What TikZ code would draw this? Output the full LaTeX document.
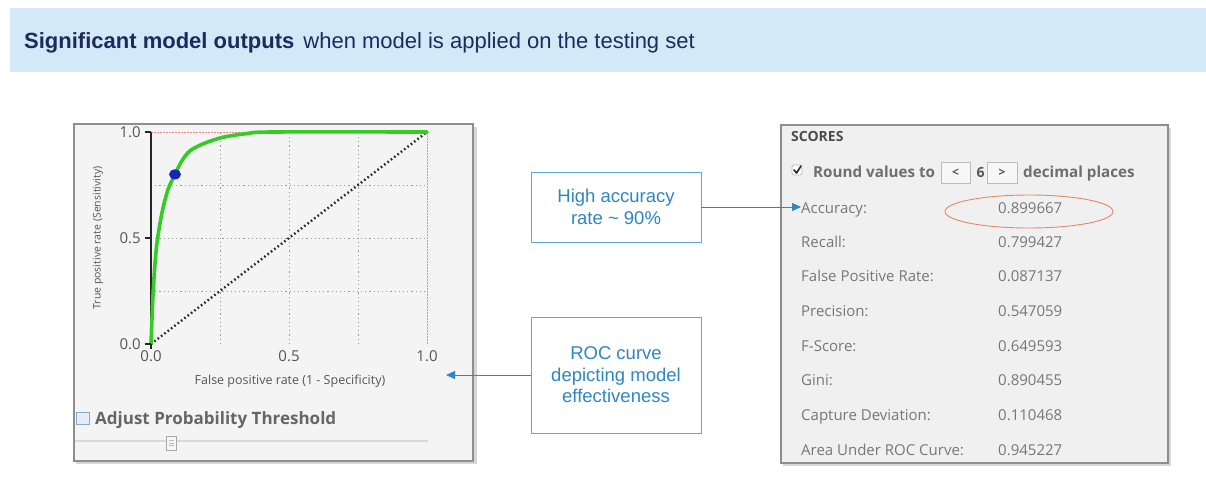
\documentclass[tikz,border=0pt]{standalone}
\usepackage{fontspec}
\setmainfont{Liberation Sans}
\newfontfamily\uifont{Open Sans}
\usetikzlibrary{arrows.meta,shapes.geometric}

\definecolor{bandblue}{HTML}{D4E9F7}
\definecolor{navy}{HTML}{1C2B5C}
\definecolor{callblue}{HTML}{2F86C6}
\definecolor{callborder}{HTML}{5BA6DA}
\definecolor{panelbg}{HTML}{F4F4F4}
\definecolor{scorebg}{HTML}{F0F0F0}
\definecolor{panelframe}{HTML}{8E8E8E}
\definecolor{panelshade}{HTML}{D6D6D6}
\definecolor{rocgreen}{HTML}{33CC22}
\definecolor{dotblue}{HTML}{1428B4}
\definecolor{uigray}{HTML}{777777}
\definecolor{uidark}{HTML}{555555}
\definecolor{ringorange}{HTML}{E4876A}
\definecolor{limitred}{HTML}{EE8A8A}
\definecolor{gridgray}{HTML}{9A9A9A}
\definecolor{btnframe}{HTML}{BBBBBB}
\definecolor{btnfill}{HTML}{F7F7F7}
\definecolor{sliderline}{HTML}{D8D8D8}
\definecolor{boxedge}{HTML}{8AA8C8}
\definecolor{boxfill}{HTML}{E6EDF5}

\begin{document}
\begin{tikzpicture}[x=1pt,y=-1pt,
  callout/.style={draw=callborder, line width=0.9pt, fill=white, align=center,
    text=callblue, font=\fontsize{18.5}{21.5}\selectfont, inner sep=0pt},
  pointer/.style={draw=callblue, line width=0.9pt, -{Triangle[length=9pt,width=8pt]}},
  panelframe/.style={fill=panelbg, draw=panelframe, line width=1.6pt},
  panelshadow/.style={fill=panelshade},
  scoretext/.style={anchor=base west, text=uigray, inner sep=0pt,
    font=\uifont\fontsize{15}{16}\selectfont},
  uibold/.style={anchor=base west, text=uidark, inner sep=0pt,
    font=\uifont\bfseries\fontsize{15.2}{16}\selectfont},
  ticklabel/.style={text=uidark, inner sep=0pt, font=\uifont\fontsize{15}{16}\selectfont},
  axislabel/.style={text=uidark, inner sep=0pt, font=\uifont\fontsize{12.5}{14}\selectfont},
  gridline/.style={draw=gridgray, line width=0.9pt, dash pattern=on 1.2pt off 3pt},
  button/.style={fill=btnfill, draw=btnframe, line width=0.8pt},
]
\fill[white] (0,0) rectangle (1206,479);
\useasboundingbox (0,0) rectangle (1206,479);

% title band
\fill[bandblue] (10,8) rectangle (1206,72);
\node[anchor=base west, inner sep=0pt, text=navy, font=\fontsize{22}{26}\selectfont]
  (title) at (24,48) {\textbf{Significant model outputs}\hspace{3pt} when model is applied on the testing set};

% ---------------- ROC panel ----------------
\fill[panelshadow] (76,127) rectangle (477,464);
\draw[panelframe] (74,124) rectangle (473,461);

\begin{scope}[shift={(151pt,-344pt)}, x=276pt, y=212pt]
  \foreach \v in {0.25,0.5,0.75} {
    \draw[gridline] (\v,0) -- (\v,1);
    \draw[gridline] (0,\v) -- (1,\v);
  }
  \draw[limitred, line width=1pt, dash pattern=on 2pt off 1pt] (0,1) -- (1,1) -- (1,0);
  \draw[black!85, line width=2.4pt, dash pattern=on 1.6pt off 2.6pt] (0,0) -- (1,1);
  \draw[black!85, line width=1.3pt] (0,1) -- (0,0);
  \draw[rocgreen, line width=3.6pt, line join=round, line cap=round]
    plot[smooth, tension=0.5] coordinates {
      (0,0) (0.008,0.25) (0.02,0.46) (0.04,0.62) (0.062,0.73) (0.087,0.80)
      (0.11,0.86) (0.14,0.91) (0.19,0.945) (0.26,0.975) (0.35,0.993) (0.44,1.0) (1,1)};
  \fill[dotblue] (0.087,0.80) ellipse (6pt and 5pt);
\end{scope}

% axis ticks and labels
\foreach \yy in {132,238,344} \draw[black!85, line width=1.2pt] (145,\yy) -- (151,\yy);
\draw[black!85, line width=1.2pt] (151,344) -- (151,349);
\node[ticklabel, anchor=east] (ty1) at (141,132) {1.0};
\node[ticklabel, anchor=east] (ty5) at (141,238) {0.5};
\node[ticklabel, anchor=east] (ty0) at (141,344) {0.0};
\node[ticklabel] (tx0) at (151,356) {0.0};
\node[ticklabel] (tx5) at (289,356) {0.5};
\node[ticklabel] (tx1) at (427,356) {1.0};
\node[axislabel] (xlab) at (290,381) {False positive rate (1 - Specificity)};
\node[axislabel, rotate=90, font=\uifont\fontsize{10.5}{12}\selectfont] (ylab) at (98,238)
  {True positive rate (Sensitivity)};

% probability threshold control
\draw[fill=boxfill, draw=boxedge, line width=1pt] (76,412) rectangle (89,424);
\node[anchor=base west, inner sep=0pt, text=uidark!90,
  font=\uifont\bfseries\fontsize{17}{19}\selectfont] (thr) at (95,424) {Adjust Probability Threshold};
\draw[sliderline, line width=2pt] (75,441) -- (428,441);
\draw[fill=btnfill, draw=btnframe!90!black, line width=0.8pt] (166,436) rectangle (176,450);
\foreach \yy in {440.5,443,445.5} \draw[btnframe, line width=0.6pt] (168.5,\yy) -- (173.5,\yy);

\coordinate (rocTip) at (446,375);

% ---------------- scores panel ----------------
\fill[panelshadow] (783,128) rectangle (1171,466);
\draw[panelframe, fill=scorebg] (781,125) rectangle (1168,463);
\node[uibold, font=\uifont\bfseries\fontsize{14}{15}\selectfont, text=uidark!90!black] (scores) at (791,141) {SCORES};

\draw[fill=white, draw=btnframe, line width=0.8pt, rounded corners=1.5pt] (792,165) rectangle (802,175);
\draw[black!85, line width=1.6pt, line cap=round, line join=round] (794,170) -- (796.5,173) -- (801,166);
\node[uibold, text=uidark!85] (round) at (813,177) {Round values to};
\draw[button] (941,162) rectangle (970,183);
\node[ticklabel, font=\uifont\bfseries\fontsize{12}{14}\selectfont] (less) at (955.5,172.5) {<};
\node[ticklabel, font=\uifont\bfseries\fontsize{14}{16}\selectfont] (six) at (980.5,172.5) {6};
\draw[button] (987,162) rectangle (1017,183);
\node[ticklabel, font=\uifont\bfseries\fontsize{12}{14}\selectfont] (more) at (1002,172.5) {>};
\node[uibold, text=uidark!85] (dec) at (1023,177) {decimal places};

\node[scoretext] (acc)  at (801,213) {Accuracy:};
\node[scoretext] (rec)  at (801,247) {Recall:};
\node[scoretext] (fpr)  at (801,281) {False Positive Rate:};
\node[scoretext] (prec) at (801,316) {Precision:};
\node[scoretext] (fsc)  at (801,351) {F-Score:};
\node[scoretext] (gini) at (801,385) {Gini:};
\node[scoretext] (cap)  at (801,420) {Capture Deviation:};
\node[scoretext] (auc)  at (801,455) {Area Under ROC Curve:};

\node[scoretext] (vacc)  at (998,213) {0.899667};
\node[scoretext] (vrec)  at (998,247) {0.799427};
\node[scoretext] (vfpr)  at (998,281) {0.087137};
\node[scoretext] (vprec) at (998,316) {0.547059};
\node[scoretext] (vfsc)  at (998,351) {0.649593};
\node[scoretext] (vgini) at (998,385) {0.890455};
\node[scoretext] (vcap)  at (998,420) {0.110468};
\node[scoretext] (vauc)  at (998,455) {0.945227};

\node[draw=ringorange, line width=0.9pt, ellipse, minimum width=168pt, minimum height=33pt, inner sep=0pt]
  (ring) at (1029,211.5) {};

% ---------------- callouts ----------------
\node[callout, minimum width=170pt, minimum height=70pt] (accbox) at (616,207)
  {High accuracy\\rate \textasciitilde{} 90\%};
\node[callout, minimum width=170pt, minimum height=116pt] (rocbox) at (616,375)
  {ROC curve\\depicting model\\effectiveness};

\draw[pointer] (accbox.east) -- (accbox.east -| acc.west);
\draw[pointer] (rocbox.west) -- (rocTip);
\end{tikzpicture}
\end{document}
